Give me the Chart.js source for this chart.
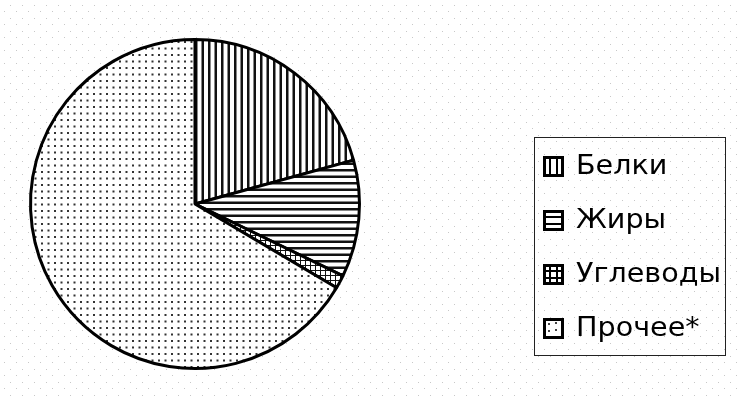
<!DOCTYPE html>
<html>
<head>
<meta charset="utf-8">
<script src="https://cdn.jsdelivr.net/npm/chart.js@4/dist/chart.umd.min.js"></script>
<style>
  html, body { margin: 0; padding: 0; background: #fff; }
  #wrap { width: 737px; height: 399px; }
</style>
</head>
<body>
<div id="wrap"><canvas id="pie-chart" width="737" height="399"></canvas></div>
<script>
const labels = ['Белки', 'Жиры', 'Углеводы', 'Прочее*']
const values = [20.7, 11.5, 1.3, 66.5]
const fills = ['vertical', 'horizontal', 'grid', 'dots']

// fill patterns like the old black and white charts
function makePattern (kind) {
  const c = document.createElement('canvas')
  const size = kind === 'grid' ? 5 : 13
  c.width = size
  c.height = size
  const ctx = c.getContext('2d')
  ctx.fillStyle = '#fff'
  ctx.fillRect(0, 0, size, size)
  ctx.fillStyle = '#111'
  if (kind === 'vertical') {
    ctx.fillRect(0, 0, 2.5, size)
    ctx.fillRect(6.5, 0, 2.5, size)
  } else if (kind === 'horizontal') {
    ctx.fillRect(0, 0, size, 2.5)
    ctx.fillRect(0, 6.5, size, 2.5)
  } else if (kind === 'grid') {
    ctx.fillRect(0, 0, size, 1)
    ctx.fillRect(0, 0, 1, size)
  } else {
    ctx.fillStyle = '#333'
    ctx.fillRect(2, 2, 2, 2)
    ctx.fillRect(8.5, 2, 2, 2)
    ctx.fillRect(2, 8.5, 2, 2)
    ctx.fillRect(8.5, 8.5, 2, 2)
  }
  return c
}

function backgroundDots (ctx) {
  const c = document.createElement('canvas')
  c.width = 12
  c.height = 13
  const t = c.getContext('2d')
  t.fillStyle = '#fff'
  t.fillRect(0, 0, 12, 13)
  t.fillStyle = '#c8c8c8'
  t.fillRect(10, 5, 1, 1)
  t.fillRect(4, 11, 1, 1)
  return ctx.createPattern(c, 'repeat')
}

const bgPlugin = {
  id: 'dottedBackground',
  beforeDraw (chart) {
    const ctx = chart.ctx
    ctx.save()
    ctx.fillStyle = backgroundDots(ctx)
    ctx.fillRect(0, 0, chart.width, chart.height)
    ctx.restore()
  }
}

function drawIcon (ctx, kind, x, y, s) {
  ctx.fillStyle = '#fff'
  ctx.fillRect(x, y, s, s)
  ctx.fillStyle = '#000'
  const step = s / 3
  if (kind === 'vertical') {
    ctx.fillRect(x + step - 1, y, 2, s)
    ctx.fillRect(x + 2 * step - 1, y, 2, s)
  } else if (kind === 'horizontal') {
    ctx.fillRect(x, y + step - 1, s, 2)
    ctx.fillRect(x, y + 2 * step - 1, s, 2)
  } else if (kind === 'grid') {
    ctx.fillRect(x + step - 1, y, 2, s)
    ctx.fillRect(x + 2 * step - 1, y, 2, s)
    ctx.fillRect(x, y + step - 1, s, 2)
    ctx.fillRect(x, y + 2 * step - 1, s, 2)
  } else {
    ctx.fillStyle = '#444'
    ctx.fillRect(x + 5, y + 5, 2, 2)
    ctx.fillRect(x + 12, y + 4, 2, 2)
    ctx.fillRect(x + 5, y + 12, 2, 2)
    ctx.fillRect(x + 12, y + 11, 2, 2)
  }
  ctx.lineWidth = 3
  ctx.strokeStyle = '#000'
  ctx.strokeRect(x + 1.5, y + 1.5, s - 3, s - 3)
}

const legendPlugin = {
  id: 'boxLegend',
  afterDraw (chart) {
    const ctx = chart.ctx
    ctx.save()
    ctx.strokeStyle = '#222'
    ctx.lineWidth = 1
    ctx.strokeRect(534.5, 137.5, 191, 218)
    ctx.font = '26px "DejaVu Sans", sans-serif'
    ctx.textBaseline = 'middle'
    chart.data.labels.forEach((label, i) => {
      const cy = 166 + i * 54
      drawIcon(ctx, fills[i], 543, cy - 10, 21)
      // the reference lettering is a little wider than the font
      ctx.save()
      ctx.translate(576, cy + 1)
      ctx.scale(1.1, 1)
      ctx.fillStyle = '#000'
      ctx.fillText(label, 0, 0)
      ctx.restore()
    })
    ctx.restore()
  }
}

const ctx = document.querySelector('#pie-chart').getContext('2d')
// eslint-disable-next-line no-unused-vars, no-undef
const chart = new Chart(ctx, {
  type: 'pie',
  data: {
    labels,
    datasets: [{
      data: values,
      backgroundColor: fills.map(k => ctx.createPattern(makePattern(k), 'repeat')),
      borderColor: '#000',
      borderWidth: 3
    }]
  },
  options: {
    responsive: false,
    animation: false,
    layout: {
      padding: { left: 29, right: 376, top: 38, bottom: 29 }
    },
    plugins: {
      legend: { display: false },
      tooltip: { enabled: false }
    }
  },
  plugins: [bgPlugin, legendPlugin]
})
</script>
</body>
</html>
